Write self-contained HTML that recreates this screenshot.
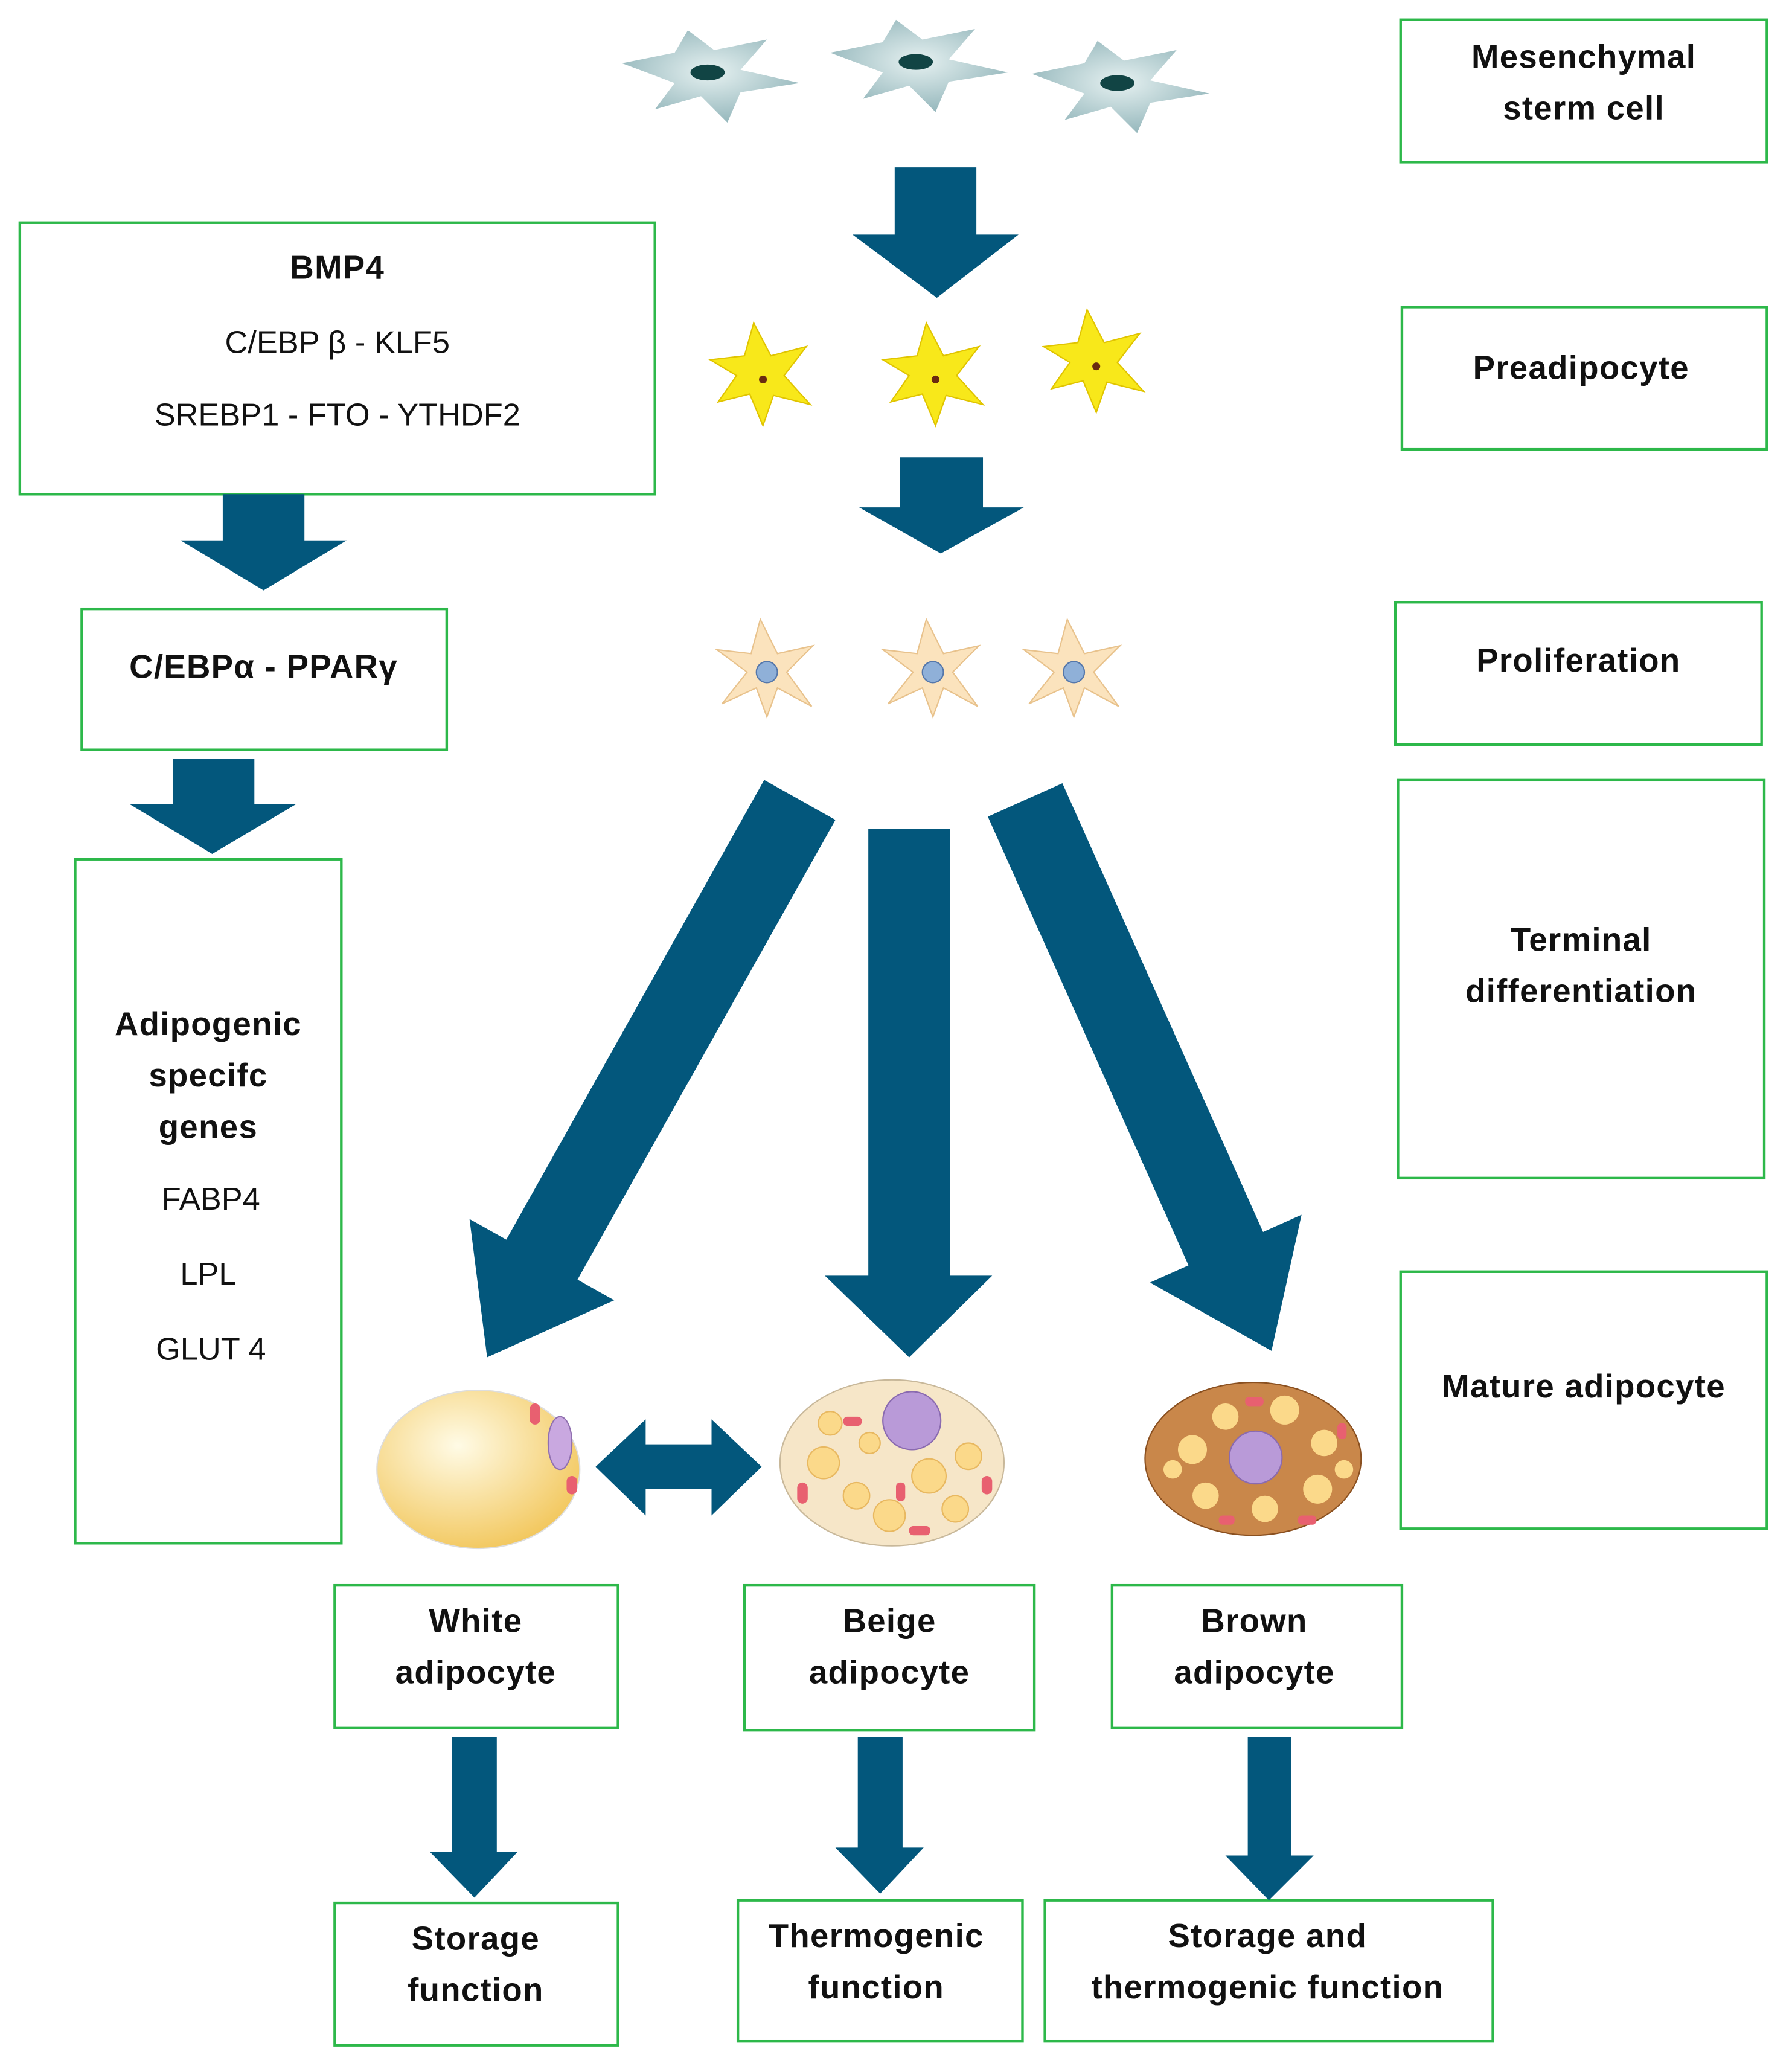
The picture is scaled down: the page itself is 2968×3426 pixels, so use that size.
<!DOCTYPE html>
<html><head><meta charset="utf-8"><style>html,body{margin:0;padding:0;background:#fff}svg{display:block}
text{font-family:"Liberation Sans",sans-serif;font-size:24px;fill:#111}
.b{font-weight:bold;font-size:25px;letter-spacing:0.6px}</style></head><body>
<svg width="2968" height="3426" viewBox="0 0 1360 1570" xmlns="http://www.w3.org/2000/svg">
<defs>
<radialGradient id="tg" cx="50%" cy="45%" r="60%"><stop offset="0" stop-color="#e6f1f1"/><stop offset="1" stop-color="#8fb3b8"/></radialGradient>
<radialGradient id="wg" cx="40%" cy="35%" r="70%"><stop offset="0" stop-color="#fffbe6"/><stop offset="1" stop-color="#f2c65a"/></radialGradient>
<g id="mc"><path d="M-65,-10 L-25,-18 L-15,-35 L5,-20 L45,-28 L25,-5 L70,5 L25,12 L15,35 L-5,15 L-40,25 L-25,5 Z" fill="url(#tg)"/><ellipse cx="0" cy="-3" rx="13" ry="6" fill="#114444"/></g>
<g id="yc"><path d="M-38,-12 L-12,-15 L-5,-40 L8,-15 L35,-22 L18,0 L38,22 L10,15 L2,38 L-8,14 L-32,20 L-18,0 Z" fill="#f8e81a" stroke="#e0c400"/><circle cx="2" cy="3" r="3" fill="#6a2a10"/></g>
<g id="pc"><path d="M-38,-15 L-12,-12 L-5,-38 L8,-12 L35,-18 L15,2 L34,28 L8,14 L0,36 L-8,14 L-34,26 L-15,2 Z" fill="#fbe3bd" stroke="#e8c28c"/><circle cx="0" cy="2" r="8" fill="#8fb0d8" stroke="#5577aa"/></g>
</defs>
<g fill="#fff" stroke="#2db84a" stroke-width="2">
<rect x="1063" y="15" width="278" height="108"/>
<rect x="15" y="169" width="482" height="206"/>
<rect x="1064" y="233" width="277" height="108"/>
<rect x="62" y="462" width="277" height="107"/>
<rect x="1059" y="457" width="278" height="108"/>
<rect x="1061" y="592" width="278" height="302"/>
<rect x="57" y="652" width="202" height="519"/>
<rect x="1063" y="965" width="278" height="195"/>
<rect x="254" y="1203" width="215" height="108"/>
<rect x="565" y="1203" width="220" height="110"/>
<rect x="844" y="1203" width="220" height="108"/>
<rect x="254" y="1444" width="215" height="108"/>
<rect x="560" y="1442" width="216" height="107"/>
<rect x="793" y="1442" width="340" height="107"/>
</g>
<g text-anchor="middle" dominant-baseline="central">
<text class="b" x="1202" y="43">Mesenchymal</text><text class="b" x="1202" y="82">sterm cell</text>
<text class="b" x="256" y="203">BMP4</text><text x="256" y="260">C/EBP β - KLF5</text><text x="256" y="315">SREBP1 - FTO - YTHDF2</text>
<text class="b" x="1200" y="279">Preadipocyte</text>
<text class="b" x="200" y="506">C/EBPα - PPARγ</text>
<text class="b" x="1198" y="501">Proliferation</text>
<text class="b" x="1200" y="713">Terminal</text><text class="b" x="1200" y="752">differentiation</text>
<text class="b" x="158" y="777">Adipogenic</text><text class="b" x="158" y="816">specifc</text><text class="b" x="158" y="855">genes</text>
<text x="160" y="910">FABP4</text><text x="158" y="967">LPL</text><text x="160" y="1024">GLUT 4</text>
<text class="b" x="1202" y="1052">Mature adipocyte</text>
<text class="b" x="361" y="1230">White</text><text class="b" x="361" y="1269">adipocyte</text>
<text class="b" x="675" y="1230">Beige</text><text class="b" x="675" y="1269">adipocyte</text>
<text class="b" x="952" y="1230">Brown</text><text class="b" x="952" y="1269">adipocyte</text>
<text class="b" x="361" y="1471">Storage</text><text class="b" x="361" y="1510">function</text>
<text class="b" x="665" y="1469">Thermogenic</text><text class="b" x="665" y="1508">function</text>
<text class="b" x="962" y="1469">Storage and</text><text class="b" x="962" y="1508">thermogenic function</text>
</g>
<g fill="#03577c">
<polygon points="679,127 741,127 741,178 773,178 711,226 647,178 679,178"/>
<polygon points="683,347 746,347 746,385 777,385 714,420 652,385 683,385"/>
<polygon points="169,375 231,375 231,410 263,410 200,448 137,410 169,410"/>
<polygon points="131,576 193,576 193,610 225,610 161,648 98,610 131,610"/>
<polygon points="659,629 721,629 721,968 753,968 690,1030 626,968 659,968"/>
<polygon transform="translate(607,607) rotate(29.3)" points="-31,0 31,0 31,400 63,400 0,485 -63,400 -31,400"/>
<polygon transform="translate(778,607) rotate(-24.1)" points="-31,0 31,0 31,373 63,373 0,458 -63,373 -31,373"/>
<polygon points="343,1318 377,1318 377,1405 393,1405 360,1440 326,1405 343,1405"/>
<polygon points="651,1318 685,1318 685,1402 701,1402 668,1437 634,1402 651,1402"/>
<polygon points="947,1318 980,1318 980,1408 997,1408 963,1442 930,1408 947,1408"/>
<polygon points="452,1113 490,1077 490,1096 540,1096 540,1077 578,1113 540,1150 540,1130 490,1130 490,1150"/>
</g>
<use href="#mc" x="537" y="58"/><use href="#mc" x="695" y="50"/><use href="#mc" x="848" y="66"/>
<use href="#yc" x="577" y="285"/><use href="#yc" x="708" y="285"/><use href="#yc" x="830" y="275"/>
<use href="#pc" x="582" y="508"/><use href="#pc" x="708" y="508"/><use href="#pc" x="815" y="508"/>
<ellipse cx="363" cy="1115" rx="77" ry="60" fill="url(#wg)" stroke="#ddd"/>
<ellipse cx="425" cy="1095" rx="9" ry="20" fill="#c9a8e0" stroke="#9070b0"/>
<rect x="402" y="1065" width="8" height="16" rx="4" fill="#e86070"/><rect x="430" y="1120" width="8" height="14" rx="4" fill="#e86070"/>
<ellipse cx="677" cy="1110" rx="85" ry="63" fill="#f6e6c8" stroke="#c8b89a"/>
<circle cx="692" cy="1078" r="22" fill="#b99ad8" stroke="#8a6ab0"/>
<g fill="#fbd98a" stroke="#e8b860"><circle cx="625" cy="1110" r="12"/><circle cx="650" cy="1135" r="10"/><circle cx="705" cy="1120" r="13"/><circle cx="735" cy="1105" r="10"/><circle cx="675" cy="1150" r="12"/><circle cx="630" cy="1080" r="9"/><circle cx="725" cy="1145" r="10"/><circle cx="660" cy="1095" r="8"/></g>
<g fill="#e86070"><rect x="605" y="1125" width="8" height="16" rx="4"/><rect x="640" y="1075" width="14" height="7" rx="3"/><rect x="690" y="1158" width="16" height="7" rx="3"/><rect x="745" y="1120" width="8" height="14" rx="4"/><rect x="680" y="1125" width="7" height="14" rx="3"/></g>
<ellipse cx="951" cy="1107" rx="82" ry="58" fill="#c9874a" stroke="#8a5020"/>
<g fill="#fbd98a"><circle cx="905" cy="1100" r="11"/><circle cx="930" cy="1075" r="10"/><circle cx="975" cy="1070" r="11"/><circle cx="1005" cy="1095" r="10"/><circle cx="1000" cy="1130" r="11"/><circle cx="960" cy="1145" r="10"/><circle cx="915" cy="1135" r="10"/><circle cx="890" cy="1115" r="7"/><circle cx="1020" cy="1115" r="7"/></g>
<g fill="#e86070"><rect x="945" y="1060" width="14" height="7" rx="3"/><rect x="985" y="1150" width="14" height="7" rx="3"/><rect x="925" y="1150" width="12" height="7" rx="3"/><rect x="1015" y="1080" width="7" height="12" rx="3"/></g>
<circle cx="953" cy="1106" r="20" fill="#b99ad8" stroke="#8a6ab0"/>
</svg>
</body></html>
